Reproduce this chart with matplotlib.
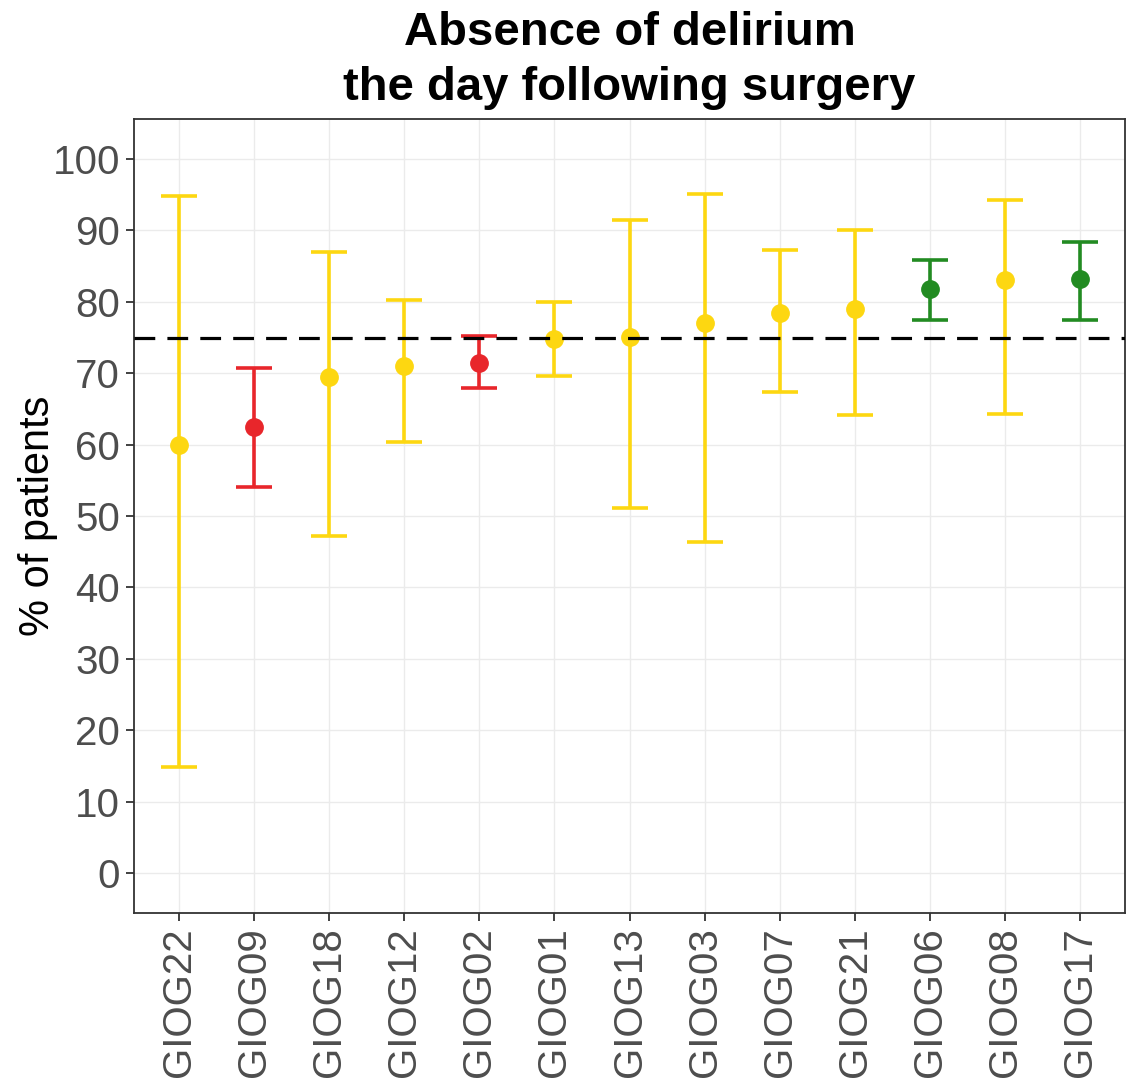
import matplotlib
matplotlib.use("Agg")
import matplotlib.pyplot as plt

plt.rcParams['font.family'] = ['Liberation Sans', 'DejaVu Sans']

# data
centres = ["GIOG22", "GIOG09", "GIOG18", "GIOG12", "GIOG02", "GIOG01", "GIOG13",
           "GIOG03", "GIOG07", "GIOG21", "GIOG06", "GIOG08", "GIOG17"]
estimate = [60.0, 62.5, 69.5, 71.0, 71.4, 74.8, 75.1, 77.1, 78.5, 79.0, 81.8, 83.0, 83.2]
lower = [14.8, 54.1, 47.2, 60.4, 67.9, 69.6, 51.1, 46.3, 67.4, 64.1, 77.5, 64.3, 77.5]
upper = [94.8, 70.8, 87.0, 80.3, 75.2, 80.0, 91.5, 95.1, 87.3, 90.1, 85.9, 94.3, 88.4]
status = ["mid", "low", "mid", "mid", "low", "mid", "mid", "mid", "mid", "mid", "high", "mid", "high"]
target = 75

colours = {"low": "#E8262B", "mid": "#FDD711", "high": "#228B22"}

fig = plt.figure(figsize=(11.3, 10.84), dpi=100)
ax = fig.add_axes([0.1186, 0.1577, 0.877, 0.7325])

for i, name in enumerate(centres):
    c = colours[status[i]]
    ax.errorbar(i, estimate[i],
                yerr=[[estimate[i] - lower[i]], [upper[i] - estimate[i]]],
                fmt='o', color=c, ecolor=c, elinewidth=2.6, capsize=13.3,
                capthick=2.6, markersize=12.5, zorder=3)

ax.axhline(target, color='black', lw=2.3, dashes=(6.5, 3.8), zorder=4)

ax.set_xlim(-0.6, len(centres) - 0.4)
ax.set_ylim(-5.6, 105.6)
ax.set_yticks(range(0, 101, 10))
ax.set_xticks(range(len(centres)))
ax.set_xticklabels(centres, rotation=90)

ax.grid(True, color='#EBEBEB', lw=1.0)
ax.set_axisbelow(True)
for s in ax.spines.values():
    s.set_color('#333333')
    s.set_linewidth(1.3)
ax.tick_params(axis='both', colors='#333333', length=6, width=1.3,
               labelsize=29, labelcolor='#4D4D4D', pad=4)

ax.set_ylabel("% of patients", fontsize=30, color='black', labelpad=-4)
ax.set_title("Absence of delirium\nthe day following surgery", fontsize=34,
             fontweight='bold', linespacing=1.32, pad=14)

fig.savefig("out.png", dpi=100)
